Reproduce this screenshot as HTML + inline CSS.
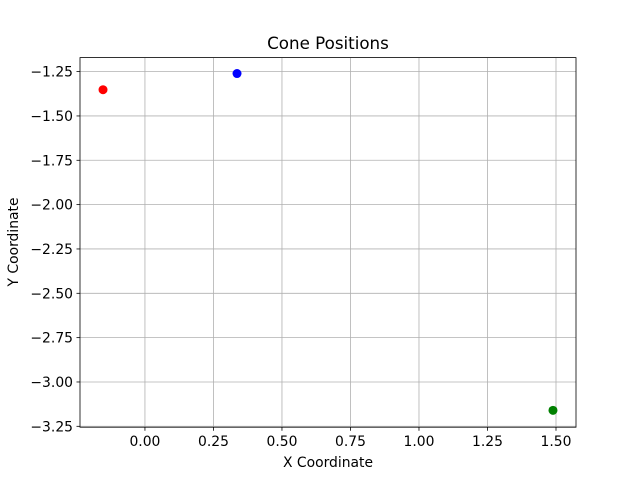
<!DOCTYPE html>
<html><head><meta charset="utf-8"><style>
body{margin:0;background:#fff;font-family:"Liberation Sans","DejaVu Sans",sans-serif}
svg text{font-family:"DejaVu Sans","Liberation Sans",sans-serif;font-size:13.9px;fill:#000}
</style></head><body>
<svg width="640" height="480" xmlns="http://www.w3.org/2000/svg">
<rect width="640" height="480" fill="#fff"/>
<g id="grid"></g>
<g id="pts"></g>
<rect x="80" y="57.6" width="496" height="369.6" fill="none" stroke="#000" stroke-width="0.8"/>
<g id="ticks"></g>
<text x="328" y="49" text-anchor="middle" style="font-size:16.7px">Cone Positions</text>
<text x="328" y="467" text-anchor="middle" style="font-size:13.9px">X Coordinate</text>
<text transform="translate(18,242) rotate(-90)" text-anchor="middle" style="font-size:13.9px">Y Coordinate</text>
</svg>
<script>
const xs=[-0.153,0.336,1.489];
const ys=[-1.352,-1.261,-3.16];
const colors=['red','blue','green'];
const xTicks=[0,0.25,0.5,0.75,1.0,1.25,1.5];
const yTicks=[-1.25,-1.5,-1.75,-2.0,-2.25,-2.5,-2.75,-3.0,-3.25];
const xMin=-0.237,xMax=1.573,yMin=-3.255,yMax=-1.171;
const L=80,R=576,T=57.6,B=427.2;
const sx=v=>L+(v-xMin)/(xMax-xMin)*(R-L);
const sy=v=>B-(v-yMin)/(yMax-yMin)*(B-T);
const NS='http://www.w3.org/2000/svg';
function mk(t,a,p){const e=document.createElementNS(NS,t);for(const k in a)e.setAttribute(k,a[k]);p.appendChild(e);return e;}
const g=document.getElementById('grid'),tk=document.getElementById('ticks'),pg=document.getElementById('pts');
xTicks.forEach(v=>{const x=sx(v);
const l=mk('line',{x1:x,x2:x,y1:T,y2:B,stroke:'#b0b0b0','stroke-width':0.8},g);

const t=mk('line',{x1:x,x2:x,y1:B,y2:B+3.5,stroke:'#000','stroke-width':0.8},tk);

const s=mk('text',{x:x,y:B+19,'text-anchor':'middle'},tk);s.textContent=v.toFixed(2);
});
yTicks.forEach(v=>{const y=sy(v);
const l=mk('line',{x1:L,x2:R,y1:y,y2:y,stroke:'#b0b0b0','stroke-width':0.8},g);

const t=mk('line',{x1:L-3.5,x2:L,y1:y,y2:y,stroke:'#000','stroke-width':0.8},tk);

const s=mk('text',{x:L-7,y:y+5,'text-anchor':'end'},tk);s.textContent=v.toFixed(2).replace('-','\u2212');
});
xs.forEach((v,i)=>{const c=mk('circle',{cx:sx(v),cy:sy(ys[i]),r:4.5,fill:colors[i]},pg);
});
</script>
</body></html>
